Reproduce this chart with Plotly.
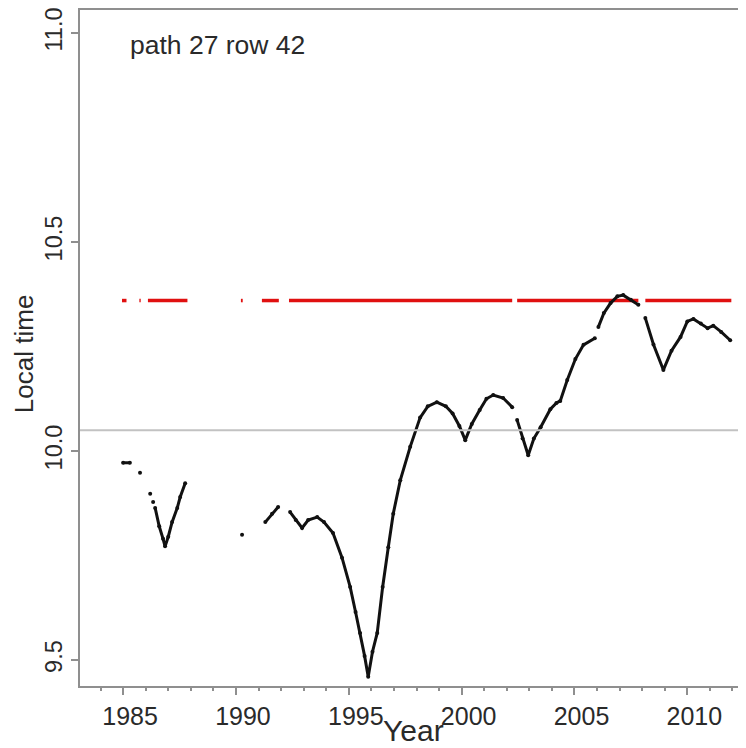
import plotly.graph_objects as go

# Black series: local overpass time (segments separated by None)
black_year = [
    1985.0, 1985.3, None,
    1985.75, None,
    1986.2, None,
    1986.33, None,
    1986.42, 1986.6, 1986.77, 1986.86, 1987.0, 1987.17, 1987.4, 1987.53, 1987.75, None,
    1990.27, None,
    1991.3, 1991.6, 1991.87, None,
    1992.4, 1992.65, 1992.93, 1993.2, 1993.6, 1993.9, 1994.3, 1994.7, 1995.06, 1995.3,
    1995.5, 1995.7, 1995.86, 1996.05, 1996.26, 1996.5, 1996.75, 1996.97, 1997.28, 1997.72,
    1998.16, 1998.5, 1998.9, 1999.3, 1999.6, 1999.9, 2000.16, 2000.45, 2000.8, 2001.1,
    2001.4, 2001.84, 2002.24, None,
    2002.46, 2002.7, 2002.95, 2003.2, 2003.5, 2003.93, 2004.2, 2004.37, 2004.68, 2005.04,
    2005.4, 2005.9, None,
    2006.06, 2006.3, 2006.6, 2006.9, 2007.16, 2007.5, 2007.83, None,
    2008.14, 2008.5, 2008.94, 2009.3, 2009.7, 2010.0, 2010.27, 2010.6, 2010.9, 2011.15,
    2011.5, 2011.9,
]
black_time = [
    9.972, 9.972, None,
    9.948, None,
    9.898, None,
    9.878, None,
    9.864, 9.82, 9.79, 9.772, 9.795, 9.83, 9.864, 9.89, 9.923, None,
    9.80, None,
    9.83, 9.85, 9.866, None,
    9.854, 9.835, 9.816, 9.835, 9.842, 9.83, 9.804, 9.745, 9.675, 9.615,
    9.565, 9.51, 9.46, 9.52, 9.565, 9.675, 9.77, 9.85, 9.93, 10.01,
    10.08, 10.107, 10.117, 10.107, 10.09, 10.06, 10.026, 10.065, 10.098, 10.125,
    10.134, 10.127, 10.105, None,
    10.074, 10.03, 9.99, 10.03, 10.057, 10.10, 10.115, 10.12, 10.17, 10.22,
    10.254, 10.27, None,
    10.297, 10.33, 10.354, 10.37, 10.373, 10.362, 10.35, None,
    10.318, 10.255, 10.194, 10.24, 10.273, 10.31, 10.316, 10.305, 10.294, 10.30,
    10.285, 10.265,
]

# Red series: nominal time (segments separated by None)
red_year = [1984.95, 1985.15, None, 1985.72, 1985.78, None, 1986.1, 1987.85, None,
            1990.22, 1990.3, None, 1991.15, 1991.9, None, 1992.35, 2002.24, None,
            2002.46, 2007.83, None, 2008.14, 2011.95]
red_time = [10.36, 10.36, None, 10.36, 10.36, None, 10.36, 10.36, None,
            10.36, 10.36, None, 10.36, 10.36, None, 10.36, 10.36, None,
            10.36, 10.36, None, 10.36, 10.36]

ref_line = 10.05
x_ticks = [1985, 1990, 1995, 2000, 2005, 2010]
y_ticks = [9.5, 10.0, 10.5, 11.0]

FONT = "Liberation Sans, Arial, sans-serif"
AX = "#8f8f8f"
TXT = "#2a2a2a"

fig = go.Figure()
fig.add_hline(y=ref_line, line=dict(color="#c2c2c2", width=2))
fig.add_trace(go.Scatter(x=red_year, y=red_time, mode="lines",
                         line=dict(color="#e01010", width=3.5), hoverinfo="skip"))
fig.add_trace(go.Scatter(x=black_year, y=black_time, mode="lines+markers",
                         line=dict(color="#111111", width=3),
                         marker=dict(color="#111111", size=4), hoverinfo="skip"))

# page body has an 8px margin; figure is sized to fit the remaining window
fig.update_layout(
    width=738, height=740,
    margin=dict(l=72, r=0, t=2, b=62),
    paper_bgcolor="white", plot_bgcolor="white",
    showlegend=False,
    font=dict(family=FONT, color=TXT, size=24),
    xaxis=dict(range=[1983.09, 2012.6], tickvals=x_ticks, ticks="outside", ticklen=7,
               tickcolor=AX, tickwidth=1.5, showgrid=False, zeroline=False,
               showline=True, linecolor=AX, linewidth=2, mirror=True, automargin=False,
               tickfont=dict(size=25, color=TXT), ticklabelshift=7, ticklabelstandoff=0,
               ticklabeloverflow="allow",
               minor=dict(dtick=1, tick0=1985, ticks="outside", ticklen=3, tickcolor=AX)),
    yaxis=dict(range=[9.438, 11.055], tickvals=y_ticks, tickformat=".1f", ticks="outside",
               ticklen=7, tickcolor=AX, tickwidth=1.5, showgrid=False, zeroline=False,
               showline=True, linecolor=AX, linewidth=2, mirror=False, automargin=False,
               ticklabeloverflow="allow",
               tickangle=-90, tickfont=dict(size=23.5, color=TXT)),
    annotations=[
        dict(text="Local time", xref="paper", yref="paper", x=-0.084, y=0.491,
             xanchor="center", yanchor="middle", textangle=-90, showarrow=False,
             font=dict(size=26, color=TXT)),
        dict(text="Year", xref="paper", yref="paper", x=0.5, y=-0.0665,
             xanchor="center", yanchor="middle", showarrow=False,
             font=dict(size=30, color=TXT)),
        dict(text="path 27 row 42", xref="paper", yref="paper", x=0.072, y=0.948,
             xanchor="left", yanchor="middle", showarrow=False,
             font=dict(size=26.5, color=TXT)),
    ],
)

fig.write_html("out.html")
